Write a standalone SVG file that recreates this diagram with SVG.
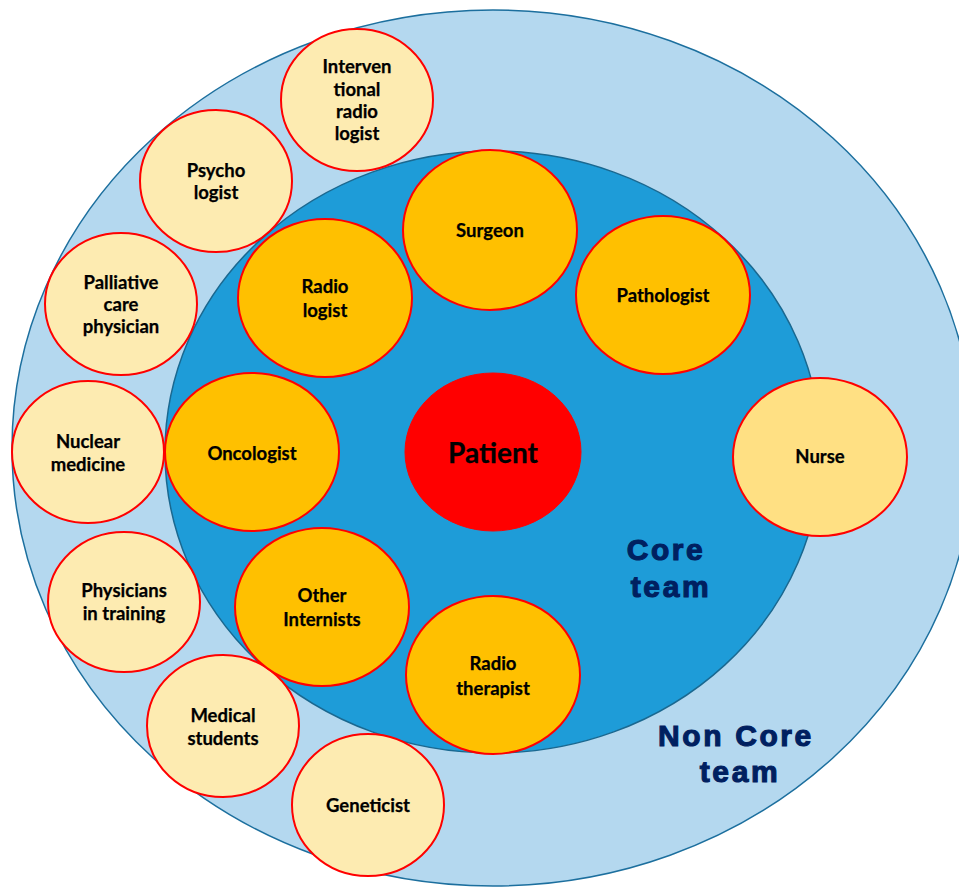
<svg xmlns="http://www.w3.org/2000/svg" width="959" height="888" viewBox="0 0 959 888">
<style>
.pale{fill:#FDEBB1;stroke:#F00;stroke-width:2}
.core{fill:#FFC000;stroke:#F00;stroke-width:2}
.t{font-family:Lato,"Open Sans","Liberation Sans",sans-serif;font-weight:bold;font-size:18.5px;fill:#000;text-anchor:middle;stroke:#000;stroke-width:0.25}
.lbl{font-family:"Liberation Sans",Arial,sans-serif;font-weight:bold;font-size:30px;fill:#002060;stroke:#002060;stroke-width:1.1;text-anchor:middle;letter-spacing:2.6px}
</style>
<rect width="959" height="888" fill="#fff"/>
<g id="noncore-area">
<ellipse cx="493" cy="448" rx="481" ry="438" fill="#B4D8EF" stroke="#1C6F9E" stroke-width="1.5"/>
</g>
<g id="core-area">
<ellipse cx="493" cy="452" rx="328" ry="301" fill="#1E9CD8" stroke="#1A6890" stroke-width="1.5"/>
</g>
<g id="connectors"></g>
<g id="interventional"><ellipse class="pale" cx="357" cy="100" rx="76" ry="71"/><text class="t" x="357" y="73">Interven</text><text class="t" x="357" y="96">tional</text><text class="t" x="357" y="118">radio</text><text class="t" x="357" y="140">logist</text></g>
<g id="psychologist"><ellipse class="pale" cx="216" cy="181" rx="76" ry="71"/><text class="t" x="216" y="177">Psycho</text><text class="t" x="216" y="199">logist</text></g>
<g id="palliative"><ellipse class="pale" cx="121" cy="304" rx="76" ry="71"/><text class="t" x="121" y="289">Palliative</text><text class="t" x="121" y="311">care</text><text class="t" x="121" y="333">physician</text></g>
<g id="nuclear"><ellipse class="pale" cx="88" cy="452" rx="76" ry="71"/><text class="t" x="88" y="448">Nuclear</text><text class="t" x="88" y="471">medicine</text></g>
<g id="physicians-training"><ellipse class="pale" cx="124" cy="602" rx="76" ry="70"/><text class="t" x="124" y="597">Physicians</text><text class="t" x="124" y="620">in training</text></g>
<g id="medical-students"><ellipse class="pale" cx="223" cy="726" rx="76" ry="71"/><text class="t" x="223" y="722">Medical</text><text class="t" x="223" y="745">students</text></g>
<g id="geneticist"><ellipse class="pale" cx="368" cy="805" rx="76" ry="71"/><text class="t" x="368" y="812">Geneticist</text></g>
<g id="nurse"><ellipse cx="820" cy="457" rx="87" ry="79" fill="#FFE083" stroke="#F00" stroke-width="2"/><text class="t" x="820" y="463">Nurse</text></g>
<g id="surgeon"><ellipse class="core" cx="490" cy="230" rx="87" ry="80"/><text class="t" x="490" y="237">Surgeon</text></g>
<g id="pathologist"><ellipse class="core" cx="663" cy="295" rx="87" ry="79"/><text class="t" x="663" y="302">Pathologist</text></g>
<g id="radiologist"><ellipse class="core" cx="325" cy="298" rx="87" ry="79"/><text class="t" x="325" y="293">Radio</text><text class="t" x="325" y="317">logist</text></g>
<g id="oncologist"><ellipse class="core" cx="252" cy="452" rx="87" ry="79"/><text class="t" x="252" y="460">Oncologist</text></g>
<g id="other-internists"><ellipse class="core" cx="322" cy="607" rx="87" ry="79"/><text class="t" x="322" y="602">Other</text><text class="t" x="322" y="626">Internists</text></g>
<g id="radiotherapist"><ellipse class="core" cx="493" cy="675" rx="87" ry="79"/><text class="t" x="493" y="670">Radio</text><text class="t" x="493" y="695">therapist</text></g>
<g id="patient"><ellipse cx="493" cy="452" rx="88" ry="79" fill="#FF0000" stroke="#F00" stroke-width="1"/><text class="t" x="493" y="463" style="font-size:28px">Patient</text></g>
<g id="labels">
<text class="lbl" x="666" y="560">Core</text><text class="lbl" x="671" y="597">team</text>
<text class="lbl" x="736" y="746">Non Core</text><text class="lbl" x="740" y="782">team</text>
</g>
</svg>
